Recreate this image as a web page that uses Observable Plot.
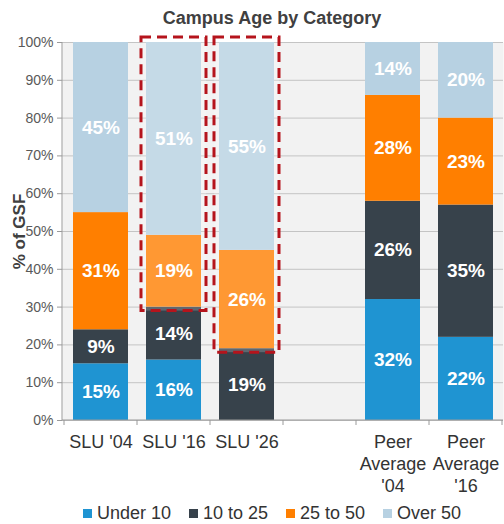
<!DOCTYPE html>
<html><head><meta charset="utf-8">
<script src="https://cdn.jsdelivr.net/npm/d3@7"></script>
<script src="https://cdn.jsdelivr.net/npm/@observablehq/plot@0.6"></script>
<style>
body{margin:0;background:#fff;font-family:"Liberation Sans",Arial,sans-serif;}
#title{height:32px;line-height:36px;text-align:center;font-weight:bold;font-size:18px;color:#404040;padding-left:40px;}
#chart svg{display:block;}
#legend{display:flex;justify-content:center;align-items:center;gap:18px;font-size:18px;color:#333;height:20px;margin-top:6px;padding-left:40px;}
#legend .item{display:flex;align-items:center;gap:5px;}
#legend .sw{width:9px;height:9px;display:inline-block;}
</style></head><body>
<div id="title">Campus Age by Category</div>
<div id="chart"></div>
<div id="legend"></div>
<script>
const categories = ["SLU '04", "SLU '16", "SLU '26", "", "Peer\nAverage\n'04", "Peer\nAverage\n'16"];
const series = ["Under 10", "10 to 25", "25 to 50", "Over 50"];
const under10  = [15, 16, 0, null, 32, 22];
const t10to25  = [9, 14, 19, null, 26, 35];
const t25to50  = [31, 19, 26, null, 28, 23];
const over50   = [45, 51, 55, null, 14, 20];
const colors = ["#1f94d2", "#37424b", "#ff7f00", "#b7d1e2"];
const highlighted = ["SLU '16", "SLU '26"];
const yTicks = [0, 10, 20, 30, 40, 50, 60, 70, 80, 90, 100];

const seriesValues = [under10, t10to25, t25to50, over50];
const rows = [];
categories.forEach((c, i) => {
  if (under10[i] == null) return;
  series.forEach((s, j) => rows.push({category: c, series: s, value: seriesValues[j][i]}));
});
const boxes = highlighted.map(c => {
  const i = categories.indexOf(c);
  return {category: c, y1: under10[i] + t10to25[i], y2: under10[i] + t10to25[i] + t25to50[i] + over50[i]};
});

const frameLines = (index, scales, values, dims) => {
  const x = scales.x;
  const step = x(categories[1]) - x(categories[0]);
  const edges = categories.map(c => x(c)).concat([x(categories[categories.length - 1]) + step]);
  const yb = dims.height - dims.marginBottom;
  const g = d3.create("svg:g");
  g.selectAll("line.t").data(edges).join("line")
    .attr("x1", d => d).attr("x2", d => d).attr("y1", yb).attr("y2", yb + 5)
    .attr("stroke", "#9a9a9a");
  g.append("line").attr("x1", dims.marginLeft).attr("x2", dims.width - dims.marginRight)
    .attr("y1", yb).attr("y2", yb).attr("stroke", "#9a9a9a");
  g.append("line").attr("x1", dims.marginLeft).attr("x2", dims.marginLeft)
    .attr("y1", dims.marginTop).attr("y2", yb).attr("stroke", "#9a9a9a");
  return g.node();
};

const chart = Plot.plot({
  width: 504,
  height: 465,
  marginLeft: 62,
  marginRight: 1,
  marginTop: 10,
  marginBottom: 77,
  style: {fontFamily: "'Liberation Sans', Arial, sans-serif", background: "#fff"},
  x: {domain: categories, padding: 0},
  y: {domain: [0, 100]},
  color: {domain: series, range: colors},
  marks: [
    Plot.frame({fill: "#f2f2f2"}),
    Plot.gridY(yTicks, {stroke: "#c4c4c4", strokeOpacity: 1}),
    Plot.barY(rows, {x: "category", y: "value", fill: "series", insetLeft: 9, insetRight: 9}),
    Plot.text(rows.filter(d => d.value > 0), Plot.stackY({
      x: "category", y: "value", z: "series", text: d => d.value + "%",
      fill: "white", fontWeight: "bold", fontSize: 19
    })),
    Plot.barY(boxes, {
      x: "category", y1: "y1", y2: "y2", fill: "white", fillOpacity: 0.2,
      stroke: "#b5141c", strokeWidth: 3, strokeDasharray: "10,6",
      insetLeft: 4, insetRight: 4, insetTop: -5, insetBottom: -4
    }),
    frameLines,
    Plot.axisX({tickSize: 0, tickPadding: 12, fontSize: 18, fill: "#333", lineHeight: 1.22, label: null, tickFormat: d => d}),
    Plot.axisY(yTicks, {tickFormat: d => d + "%", tickSize: 5, tickPadding: 4, fontSize: 14, fill: "#595959", stroke: "#9a9a9a", label: null}),
    Plot.axisY({ticks: [], tickSize: 0, label: "% of GSF", labelAnchor: "center", labelArrow: "none", labelOffset: 50, fontSize: 17, fontWeight: "bold", fill: "#404040", dy: -5})
  ]
});
document.getElementById("chart").appendChild(chart);

const legend = document.getElementById("legend");
series.forEach((s, i) => {
  const item = document.createElement("span");
  item.className = "item";
  const sw = document.createElement("span");
  sw.className = "sw";
  sw.style.background = colors[i];
  const t = document.createElement("span");
  t.textContent = s;
  item.appendChild(sw);
  item.appendChild(t);
  legend.appendChild(item);
});
</script>
</body></html>
